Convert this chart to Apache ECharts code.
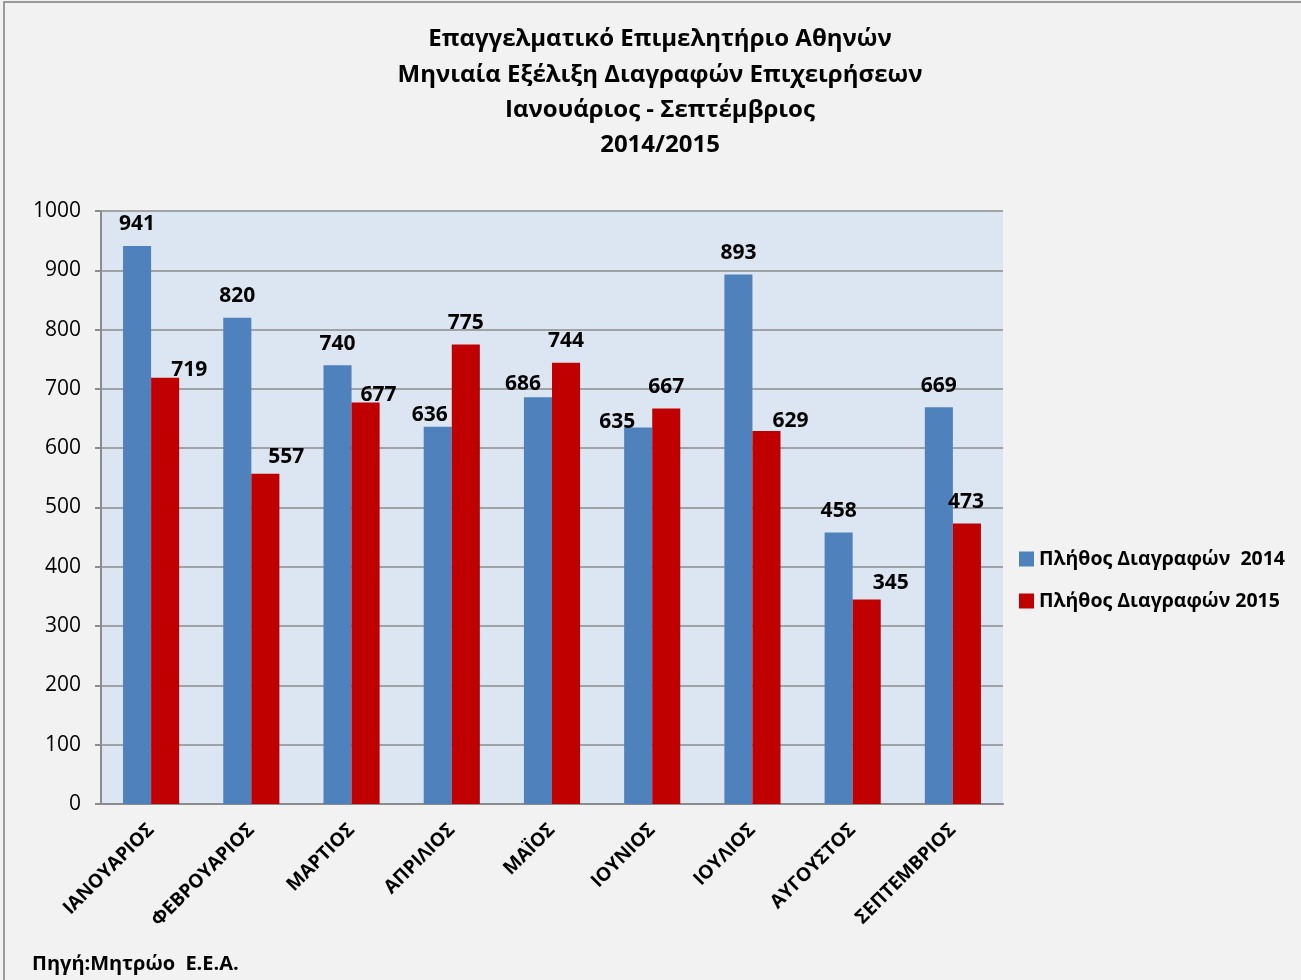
<!DOCTYPE html>
<html>
<head>
<meta charset="utf-8">
<script src="https://cdn.jsdelivr.net/npm/echarts@6/dist/echarts.min.js"></script>
<style>
html,body{margin:0;padding:0;background:#f2f2f2;}
#chart{width:1301px;height:980px;}
</style>
</head>
<body>
<div id="chart"></div>
<script>
const categories = ['ΙΑΝΟΥΑΡΙΟΣ','ΦΕΒΡΟΥΑΡΙΟΣ','ΜΑΡΤΙΟΣ','ΑΠΡΙΛΙΟΣ','ΜΑΪΟΣ','ΙΟΥΝΙΟΣ','ΙΟΥΛΙΟΣ','ΑΥΓΟΥΣΤΟΣ','ΣΕΠΤΕΜΒΡΙΟΣ'];
const values2014 = [941, 820, 740, 636, 686, 635, 893, 458, 669];
const values2015 = [719, 557, 677, 775, 744, 667, 629, 345, 473];
const seriesNames = ['Πλήθος Διαγραφών  2014', 'Πλήθος Διαγραφών 2015'];
const titleLines = ['Επαγγελματικό Επιμελητήριο Αθηνών','Μηνιαία Εξέλιξη Διαγραφών Επιχειρήσεων','Ιανουάριος - Σεπτέμβριος','2014/2015'];
const sourceText = 'Πηγή:Μητρώο  Ε.Ε.Α.';

// label offsets (layout only, moved labels in the original)
const shift2014 = [[0,0],[0,0],[0,0],[-8,10],[-15,8],[-21,16],[0,0],[0,0],[0,0]];
const shift2015 = [[24,14],[21,5],[13,14],[0,0],[0,0],[0,0],[24,12],[24,5],[-1,0]];

const FONT = '"Open Sans", "Noto Sans", sans-serif';

function buildData(vals, shifts) {
  return vals.map((v, i) => ({ value: v, label: { offset: shifts[i] } }));
}

const chart = echarts.init(document.getElementById('chart'), null, { renderer: 'canvas' });
chart.setOption({
  backgroundColor: '#f2f2f2',
  animation: false,
  textStyle: { fontFamily: FONT },
  title: {
    text: titleLines.join('\n'),
    left: 655, top: 17, textAlign: 'center',
    textStyle: { fontFamily: FONT, fontSize: 24, fontWeight: 'bold', color: '#000', lineHeight: 35.3 }
  },
  graphic: [
    { type: 'rect', shape: { x: 4, y: 2, width: 1400, height: 1100 }, style: { fill: 'none', stroke: '#9a9a9a', lineWidth: 2 }, silent: true },
    { type: 'text', left: 32, top: 954, style: { text: sourceText, font: 'bold 20px ' + FONT, fill: '#000' } }
  ],
  legend: {
    orient: 'vertical', left: 1014, top: 544,
    itemWidth: 15, itemHeight: 15, itemGap: 22,
    icon: 'rect',
    textStyle: { fontFamily: FONT, fontSize: 19.5, fontWeight: 'bold', color: '#000' },
    data: seriesNames
  },
  grid: {
    left: 101, right: 298, top: 211, bottom: 176,
    show: true, backgroundColor: '#dce6f2', borderWidth: 0
  },
  xAxis: {
    type: 'category', data: categories,
    axisLine: { show: true, lineStyle: { color: '#8c8c8c', width: 2 } },
    axisTick: { show: false },
    axisLabel: { rotate: 45, margin: 23, fontFamily: FONT, fontSize: 19, fontWeight: 'bold', color: '#000', interval: 0 }
  },
  yAxis: {
    type: 'value', min: 0, max: 1000, interval: 100,
    axisLine: { show: true, lineStyle: { color: '#8c8c8c', width: 2 } },
    axisTick: { show: true, length: 6, lineStyle: { color: '#8c8c8c', width: 2 } },
    axisLabel: { margin: 20, fontFamily: FONT, fontSize: 21, color: '#000', formatter: v => String(v) },
    splitLine: { show: true, lineStyle: { color: '#8c8c8c', width: 1.5 } }
  },
  series: [
    {
      name: seriesNames[0], type: 'bar', data: buildData(values2014, shift2014),
      itemStyle: { color: '#4f81bd' },
      barGap: '0%', barCategoryGap: '44%',
      label: { show: true, position: 'top', distance: 11, fontFamily: FONT, fontSize: 21, fontWeight: 'bold', color: '#000' }
    },
    {
      name: seriesNames[1], type: 'bar', data: buildData(values2015, shift2015),
      itemStyle: { color: '#c00000' },
      barGap: '0%', barCategoryGap: '44%',
      label: { show: true, position: 'top', distance: 11, fontFamily: FONT, fontSize: 21, fontWeight: 'bold', color: '#000' }
    }
  ]
});
</script>
</body>
</html>
